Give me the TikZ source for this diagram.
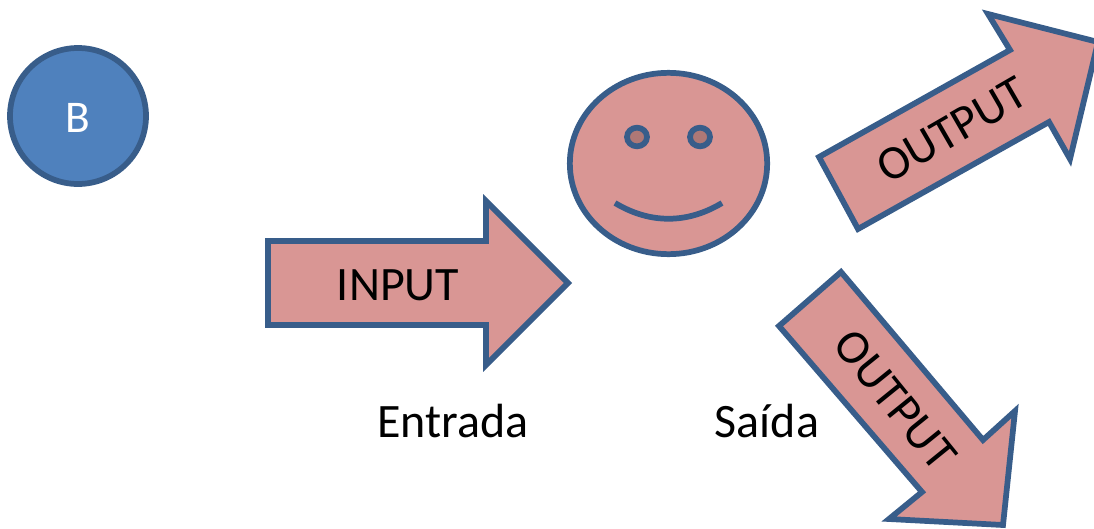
\documentclass[tikz,border=0pt]{standalone}
\usepackage{fontspec}
\setmainfont{Carlito}
\usetikzlibrary{shapes.geometric}
\definecolor{edgeblue}{HTML}{385D8A}
\definecolor{ballblue}{HTML}{4F81BD}
\definecolor{rosefill}{HTML}{D99694}
\definecolor{eyefill}{HTML}{AE7876}
\tikzstyle{outline} = [draw=edgeblue, line width=4.3pt, fill=rosefill, miter limit=10]
\tikzstyle{bigtext} = [font=\fontsize{36}{40}\selectfont, inner sep=0pt]
\tikzstyle{eye} = [outline, ellipse, fill=eyefill, minimum width=15pt, minimum height=14pt, inner sep=0pt]

\begin{document}
\begin{tikzpicture}[x=0.75pt, y=-0.75pt]
\useasboundingbox (0,0) rectangle (1094,528);

\node [outline, ellipse, fill=ballblue, minimum width=102pt, minimum height=102pt, inner sep=0pt] (ball) at (78,116) {};
\node [text=white, font=\fontsize{34}{38}\selectfont, inner sep=0pt] (balltext) at (78,118) {B};

% arrows
\draw [outline] (268,241) -- (486,241) -- (486,201) -- (568,283) -- (486,365) -- (486,325) -- (268,325) -- cycle;
\draw [outline] (819,157) -- (1010,50) -- (988,14) -- (1098,42) -- (1070,159) -- (1049,122) -- (858,229) -- cycle;
\draw [outline] (841,272) -- (983,440) -- (1015,411) -- (1003,525) -- (889,519) -- (922,492) -- (779,326) -- cycle;

% face
\node [outline, ellipse, minimum width=148pt, minimum height=136pt, inner sep=0pt] (face) at (668.5,163.5) {};
\node [eye] (lefteye) at (637,137) {};
\node [eye] (righteye) at (700,137) {};
\draw [draw=edgeblue, line width=4.3pt] (615,203) .. controls (650,224) and (687,224) .. (722,203);

% labels
\node [bigtext] (input) at (398,285) {INPUT};
\node [bigtext, rotate=30] (outup) at (952,130) {OUTPUT};
\node [bigtext, rotate=-51] (outdown) at (895,400) {OUTPUT};
\node [bigtext] (entrada) at (453,421) {Entrada};
\node [bigtext] (saida) at (767,421) {Saída};
\end{tikzpicture}
\end{document}
